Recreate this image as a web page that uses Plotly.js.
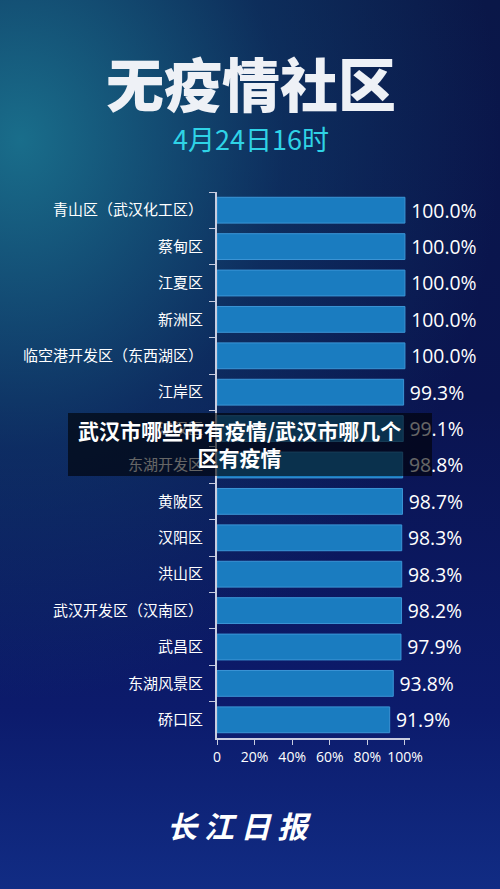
<!DOCTYPE html>
<html><head><meta charset="utf-8">
<script src="https://cdn.plot.ly/plotly-3.0.1.min.js"></script>
<style>
html,body{margin:0;padding:0;width:500px;height:889px;overflow:hidden;}
body{background:
 radial-gradient(ellipse 480px 560px at 20px 140px, rgba(28,125,150,0.85), rgba(18,80,120,0.4) 55%, rgba(0,0,0,0) 100%),
 linear-gradient(180deg, #0a1748 0%, #0a1450 45%, #0c1b6c 80%, #112c84 100%);}
#chart{width:500px;height:889px;}
</style></head>
<body><div id="chart"></div>
<script>
const categories = ['青山区（武汉化工区）','蔡甸区','江夏区','新洲区','临空港开发区（东西湖区）','江岸区','江汉区','东湖开发区','黄陂区','汉阳区','洪山区','武汉开发区（汉南区）','武昌区','东湖风景区','硚口区'];
const values = [100.0,100.0,100.0,100.0,100.0,99.3,99.1,98.8,98.7,98.3,98.3,98.2,97.9,93.8,91.9];
const xTickVals = [0,20,40,60,80,100];
const xTickText = ['0','20%','40%','60%','80%','100%'];
const titleText = '无疫情社区';
const subtitleText = '4月24日16时';
const overlayText = '武汉市哪些市有疫情/武汉市哪几个<br>区有疫情';
const logoText = '长 江 日 报';

const font = '"Noto Sans CJK SC", "Noto Sans", sans-serif';
const L = 217, R = 410, T = 192, B = 738;
const px2x = p => (p - L) / (R - L);
const px2y = p => (B - p) / (B - T);

const trace = {
  type: 'bar', orientation: 'h',
  y: categories, x: values,
  marker: {color: '#1a7cc0', line: {color: '#3b95d6', width: 1}},
  text: values.map(v => '\u2009' + v.toFixed(1) + '%'),
  textposition: 'outside', cliponaxis: false,
  textfont: {color: '#ffffff', size: 21, family: '"Open Sans", "Noto Sans", sans-serif'},
  hoverinfo: 'none'
};

const layout = {
  width: 500, height: 889,
  paper_bgcolor: 'rgba(0,0,0,0)', plot_bgcolor: 'rgba(0,0,0,0)',
  margin: {l: L, r: 500 - R, t: T, b: 889 - B},
  showlegend: false,
  bargap: 0.29,
  title: {text: titleText, x: 0.502, xref: 'container', xanchor: 'center',
          y: 1 - 87/889, yref: 'container', yanchor: 'middle',
          font: {family: font, size: 58, color: '#eef1f6', weight: 900}},
  xaxis: {range: [0, 102.7], tickvals: xTickVals, ticktext: xTickText,
          showgrid: false, zeroline: false, showline: true, linecolor: '#c8cde0', linewidth: 2,
          ticks: 'outside', ticklen: 5, tickcolor: '#c8cde0', tickwidth: 1,
          tickfont: {color: '#ffffff', size: 14, family: '"Open Sans", "Noto Sans", sans-serif'}},
  yaxis: {autorange: 'reversed', showgrid: false, zeroline: false,
          showline: true, linecolor: '#c8cde0', linewidth: 2,
          ticks: 'outside', tickson: 'boundaries', ticklen: 6, tickcolor: '#c8cde0', tickwidth: 1,
          ticklabelstandoff: 9,
          tickfont: {color: '#ffffff', size: 15, family: font}},
  shapes: [{type: 'rect', xref: 'paper', yref: 'paper', layer: 'above',
            x0: px2x(68), x1: px2x(432), y0: px2y(476), y1: px2y(413),
            fillcolor: 'rgba(0,0,0,0.6)', line: {width: 0}}],
  annotations: [
    {text: subtitleText, xref: 'paper', yref: 'paper', x: px2x(251), y: px2y(139),
     xanchor: 'center', yanchor: 'middle',
     showarrow: false, font: {family: font, size: 27, color: '#2fd3e6'}},
    {text: overlayText, xref: 'paper', yref: 'paper', x: px2x(239), y: px2y(443),
     xanchor: 'center', yanchor: 'middle',
     showarrow: false, align: 'center',
     font: {family: font, size: 21, color: '#ffffff', weight: 'bold'}},
    {text: logoText, xref: 'paper', yref: 'paper', x: px2x(239), y: px2y(825),
     xanchor: 'center', yanchor: 'middle',
     showarrow: false, font: {family: font, size: 30, color: '#ffffff', style: 'italic', weight: 'bold'}}
  ]
};

Plotly.newPlot('chart', [trace], layout, {staticPlot: true, displayModeBar: false});
</script></body></html>
